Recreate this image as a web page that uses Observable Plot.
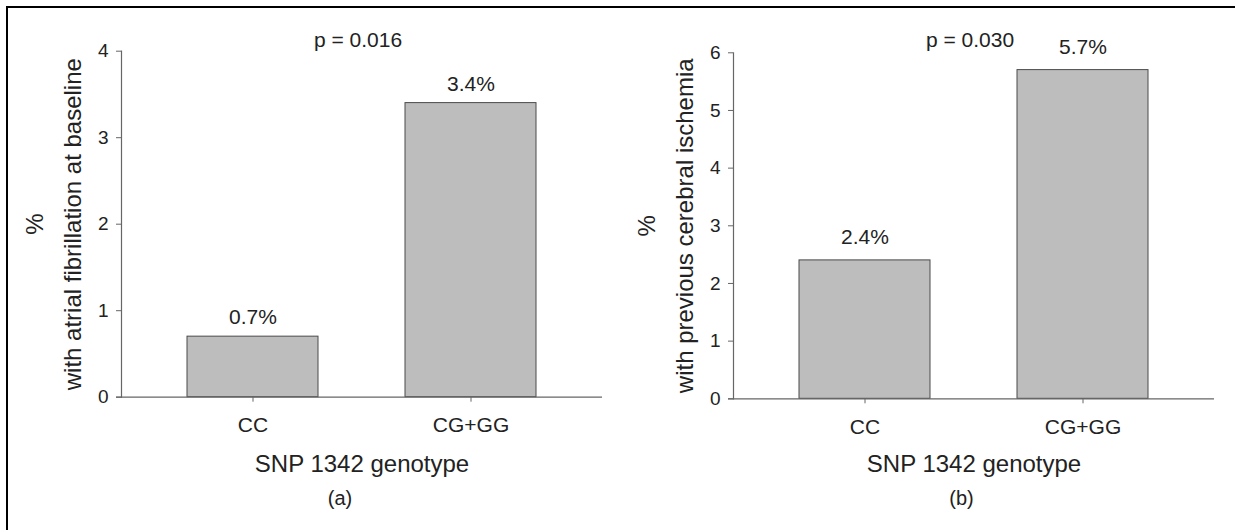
<!DOCTYPE html>
<html><head><meta charset="utf-8">
<script src="https://cdn.jsdelivr.net/npm/d3@7"></script>
<script src="https://cdn.jsdelivr.net/npm/@observablehq/plot@0.6"></script>
<style>
html,body{margin:0;padding:0;background:#fff;overflow:hidden;}
#wrap{position:relative;width:1235px;height:530px;overflow:hidden;font-family:"Liberation Sans",Arial,sans-serif;}
#border{position:absolute;left:5.5px;top:5.5px;width:1300px;height:600px;border-top:2.5px solid #000;border-left:2.5px solid #000;}
.panel{position:absolute;top:0;}
</style></head><body>
<div id="wrap"><div id="border"></div><div id="pa" class="panel" style="left:0px"></div><div id="pb" class="panel" style="left:612px"></div></div>
<script>
const genotypes = ["CC", "CG+GG"];
const afPercent = [0.7, 3.4];
const ischemiaPercent = [2.4, 5.7];
const afLabels = ["0.7%", "3.4%"];
const ischemiaLabels = ["2.4%", "5.7%"];
const afTicks = [0, 1, 2, 3, 4];
const ischemiaTicks = [0, 1, 2, 3, 4, 5, 6];
const pValues = ["p = 0.016", "p = 0.030"];
const yTitles = ["%\nwith atrial fibrillation at baseline", "%\nwith previous cerebral ischemia"];
const xTitle = "SNP 1342 genotype";
const captions = ["(a)", "(b)"];

function panel(o) {
  const data = genotypes.map((g, i) => ({genotype: g, value: o.values[i], label: o.labels[i]}));
  return Plot.plot({
    width: 617, height: 530,
    marginLeft: 121, marginRight: 15, marginTop: o.marginTop, marginBottom: o.marginBottom,
    style: {fontFamily: "'Liberation Sans', Arial, sans-serif", fontSize: "21px", color: "#222", background: "transparent", overflow: "visible"},
    x: {domain: genotypes, paddingInner: 0.4, paddingOuter: 0.3},
    y: {domain: [0, o.ticks[o.ticks.length - 1]]},
    marks: [
      Plot.barY(data, {x: "genotype", y: "value", fill: "#bdbdbd", stroke: "#4a4a4a", strokeWidth: 1}),
      Plot.ruleY([0], {stroke: "#666", strokeWidth: 1.2, insetLeft: -5}),
      Plot.frame({anchor: "left", stroke: "#666", strokeWidth: 1.2}),
      Plot.axisY({ticks: o.ticks, tickFormat: d => String(d), tickSize: 5, tickPadding: 8, fontSize: 19, stroke: "#666", fill: "#222", label: null}),
      Plot.axisX({tickSize: 5, tickPadding: 15, fontSize: 21, stroke: "#666", fill: "#222", label: null}),
      Plot.text(data, {x: "genotype", y: "value", text: "label", lineAnchor: "bottom", dy: o.labelDy, fontSize: 21, fill: "#222"}),
      Plot.text([o.p], {text: d => d, frameAnchor: "top", lineAnchor: "bottom", dy: o.pDy, dx: -4, fontSize: 21, fill: "#222"}),
      Plot.text([o.yTitle], {text: d => d, frameAnchor: "left", textAnchor: "middle", lineAnchor: "middle", rotate: -90, dx: -72, fontSize: 24, lineHeight: 1.6, fill: "#222"}),
      Plot.text([xTitle], {text: d => d, frameAnchor: "bottom", lineAnchor: "bottom", dy: o.xTitleDy, fontSize: 24, fill: "#222"}),
      Plot.text([o.caption], {text: d => d, frameAnchor: "bottom", lineAnchor: "bottom", dy: o.captionDy, dx: o.captionDx, fontSize: 20, fill: "#222"})
    ]
  });
}

document.getElementById("pa").append(panel({
  values: afPercent, labels: afLabels, ticks: afTicks, p: pValues[0], yTitle: yTitles[0], caption: captions[0],
  marginTop: 50.7, marginBottom: 133.3, labelDy: -12.5, pDy: -4, xTitleDy: 75, captionDy: 107.3, captionDx: -22
}));
document.getElementById("pb").append(panel({
  values: ischemiaPercent, labels: ischemiaLabels, ticks: ischemiaTicks, p: pValues[1], yTitle: yTitles[1], caption: captions[1],
  marginTop: 52.3, marginBottom: 131.7, labelDy: -16, pDy: -5.6, xTitleDy: 73.4, captionDy: 105.7, captionDx: -12.5
}));
</script>
</body></html>
